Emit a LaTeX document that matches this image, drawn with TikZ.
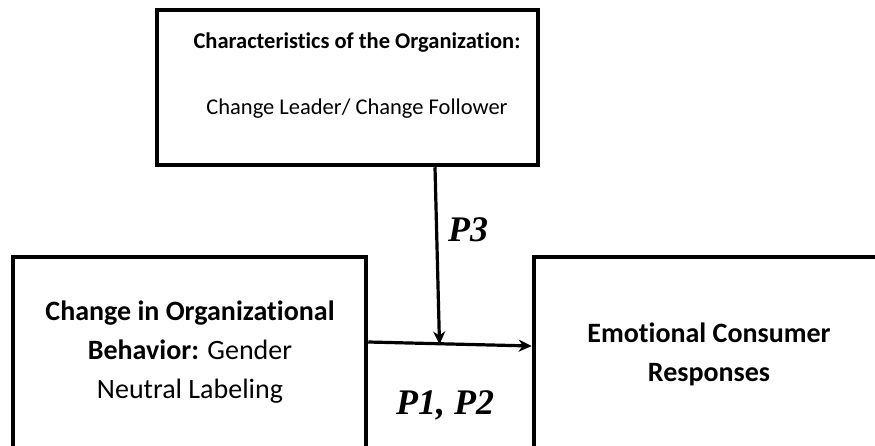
\documentclass[tikz,border=0pt]{standalone}
\usepackage{fontspec}
\setmainfont{Carlito}[Ligatures=NoCommon]
\newfontfamily\labelfont{Liberation Serif}
\usetikzlibrary{arrows.meta}
\begin{document}
\begin{tikzpicture}[x=1pt,y=-1pt,
  box/.style={draw=black,line width=4.5pt,inner sep=0pt,rectangle},
  toptext/.style={anchor=base,inner sep=0pt,font=\fontsize{22.5}{26}\selectfont},
  boxtext/.style={anchor=base,inner sep=0pt,font=\fontsize{28}{32}\selectfont},
  plabel/.style={anchor=base west,inner sep=0pt,font=\labelfont\bfseries\itshape\fontsize{36}{40}\selectfont},
  link/.style={line width=3.2pt,-{Stealth[length=13pt,width=12pt,inset=4pt]}}]
\useasboundingbox (0,0) rectangle (875,446);
\begin{scope}
\clip (0,0) rectangle (875,446);
% the three boxes (the lower two run past the bottom and right edges)
\node[box,minimum width=381pt,minimum height=155pt] (org) at (347.5,87.5) {};
\node[box,minimum width=353pt,minimum height=220pt] (cob) at (189.5,367) {};
\node[box,minimum width=360pt,minimum height=220pt] (ecr) at (714,367) {};
% box texts
\node[toptext] (orgA) at (357,49) {\bfseries Characteristics of the Organization:};
\node[toptext] (orgB) at (357,115) {Change Leader/ Change Follower};
\node[boxtext] (cobA) at (190,320) {\bfseries Change in Organizational};
\node[boxtext] (cobB) at (190,359) {\textbf{Behavior:} Gender};
\node[boxtext] (cobC) at (190,398) {Neutral Labeling};
\node[boxtext] (ecrA) at (709,342) {\bfseries Emotional Consumer};
\node[boxtext] (ecrB) at (709,381) {\bfseries Responses};
% connectors
\coordinate (meet) at (439.5,344.5);
\draw[link] ([xshift=87.5pt]org.south) -- (meet);
\draw[link] ([yshift=25pt]cob.east) -- ([yshift=21pt]ecr.west);
% proposition labels
\node[plabel] (p3) at (448,242) {P3};
\node[plabel] (p12) at (396,414) {P1, P2};
\end{scope}
\end{tikzpicture}
\end{document}
